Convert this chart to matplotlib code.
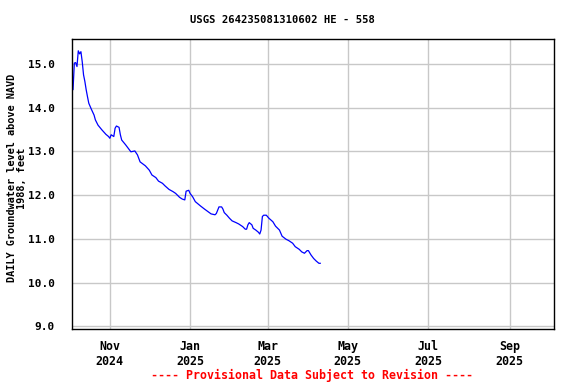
import matplotlib
matplotlib.use("Agg")
import matplotlib.pyplot as plt
import matplotlib.dates as mdates
import pandas as pd

# daily groundwater level
dates = [
    "2024-10-03", "2024-10-04", "2024-10-05", "2024-10-06", "2024-10-07",
    "2024-10-08", "2024-10-09", "2024-10-10", "2024-10-11", "2024-10-12",
    "2024-10-13", "2024-10-14", "2024-10-15", "2024-10-16", "2024-10-18",
    "2024-10-20", "2024-10-21", "2024-10-23", "2024-10-26", "2024-10-29",
    "2024-10-31", "2024-11-01", "2024-11-02", "2024-11-04", "2024-11-05",
    "2024-11-06", "2024-11-08", "2024-11-09", "2024-11-10", "2024-11-13",
    "2024-11-15", "2024-11-17", "2024-11-20", "2024-11-22", "2024-11-24",
    "2024-11-28", "2024-12-01", "2024-12-03", "2024-12-06", "2024-12-08",
    "2024-12-11", "2024-12-13", "2024-12-16", "2024-12-19", "2024-12-21",
    "2024-12-24", "2024-12-26", "2024-12-28", "2024-12-29", "2024-12-31",
    "2025-01-01", "2025-01-03", "2025-01-05", "2025-01-09", "2025-01-12",
    "2025-01-17", "2025-01-20", "2025-01-21", "2025-01-23", "2025-01-25",
    "2025-01-26", "2025-01-27", "2025-01-29", "2025-01-31", "2025-02-02",
    "2025-02-05", "2025-02-07", "2025-02-10", "2025-02-12", "2025-02-13",
    "2025-02-14", "2025-02-15", "2025-02-17", "2025-02-18", "2025-02-20",
    "2025-02-22", "2025-02-23", "2025-02-24", "2025-02-25", "2025-02-26",
    "2025-02-28", "2025-03-02", "2025-03-05", "2025-03-07", "2025-03-10",
    "2025-03-12", "2025-03-15", "2025-03-17", "2025-03-20", "2025-03-22",
    "2025-03-25", "2025-03-27", "2025-03-29", "2025-03-31", "2025-04-01",
    "2025-04-03", "2025-04-05", "2025-04-07", "2025-04-09", "2025-04-10",
]
levels = [
    14.56, 14.41, 15.02, 15.03, 14.94,
    15.30, 15.23, 15.28, 15.05, 14.75,
    14.60, 14.41, 14.25, 14.10, 13.96,
    13.83, 13.72, 13.60, 13.49, 13.39,
    13.34, 13.30, 13.38, 13.34, 13.53,
    13.58, 13.55, 13.38, 13.26, 13.15,
    13.07, 12.99, 13.01, 12.92, 12.76,
    12.67, 12.57, 12.46, 12.40, 12.32,
    12.27, 12.21, 12.13, 12.08, 12.04,
    11.95, 11.91, 11.89, 12.09, 12.11,
    12.04, 11.96, 11.85, 11.75, 11.68,
    11.57, 11.55, 11.58, 11.73, 11.73,
    11.68, 11.60, 11.54, 11.47, 11.41,
    11.37, 11.34, 11.28, 11.22, 11.22,
    11.32, 11.37, 11.32, 11.24, 11.20,
    11.15, 11.11, 11.20, 11.51, 11.54,
    11.54, 11.47, 11.39, 11.29, 11.20,
    11.06, 10.99, 10.96, 10.90, 10.82,
    10.76, 10.70, 10.67, 10.73, 10.73,
    10.63, 10.55, 10.49, 10.44, 10.44,
]
y_ticks = [9.0, 10.0, 11.0, 12.0, 13.0, 14.0, 15.0]
x_start, x_end = "2024-10-03", "2025-10-05"

t = pd.to_datetime(dates)

plt.rcParams["font.family"] = "DejaVu Sans Mono"
plt.rcParams["font.weight"] = "bold"

fig = plt.figure(figsize=(5.76, 3.84), dpi=100)
ax = fig.add_axes([0.1245, 0.1424, 0.8378, 0.756])

ax.plot(t, levels, color="#0000ff", lw=0.9)

ax.set_xlim(pd.Timestamp(x_start), pd.Timestamp(x_end))
ax.set_ylim(8.93, 15.57)
ax.set_yticks(y_ticks)
ax.set_yticklabels(["%.1f" % v for v in y_ticks])
ax.xaxis.set_major_locator(mdates.MonthLocator(bymonth=[1, 3, 5, 7, 9, 11]))
ax.xaxis.set_major_formatter(mdates.DateFormatter("%b\n%Y"))

ax.grid(True, color="#c8c8c8", lw=1.0)
ax.set_axisbelow(True)
ax.tick_params(axis="y", length=0, pad=12, labelsize=8)
ax.tick_params(axis="x", length=0, pad=8, labelsize=8.4)
for s in ax.spines.values():
    s.set_linewidth(1.0)
    s.set_color("black")

ax.set_ylabel("DAILY Groundwater level above NAVD\n1988, feet",
              fontsize=7.4, weight="bold", linespacing=1.05)
ax.yaxis.set_label_coords(-0.092, 0.52)

fig.text(0.49, 0.948, "USGS 264235081310602 HE - 558",
         ha="center", va="center", fontsize=7.6, weight="bold")
fig.text(0.541, 0.023, "---- Provisional Data Subject to Revision ----",
         ha="center", va="center", fontsize=8.4, weight="bold", color="red")

fig.savefig("out.png", dpi=100)
